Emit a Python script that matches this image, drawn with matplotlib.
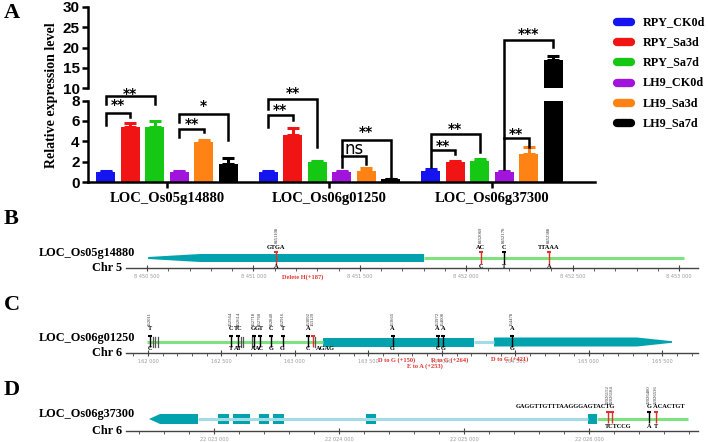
import numpy as np
import matplotlib.pyplot as plt
from matplotlib.lines import Line2D
from matplotlib.patches import Polygon
from matplotlib.ticker import MultipleLocator, FuncFormatter

W, H = 708, 442
SERIF = 'Liberation Serif'
SANS = 'Liberation Sans'

# ---- panel A data ----
genes = ['LOC_Os05g14880', 'LOC_Os06g01250', 'LOC_Os06g37300']
series = ['RPY_CK0d', 'RPY_Sa3d', 'RPY_Sa7d', 'LH9_CK0d', 'LH9_Sa3d', 'LH9_Sa7d']
colors = ['#1414F0', '#F01414', '#14C814', '#A014DC', '#FF8214', '#000000']
expr_os05g14880 = [1.0, 5.35, 5.4, 1.0, 3.95, 1.8]
expr_os06g01250 = [1.0, 4.6, 1.95, 1.0, 1.1, 0.25]
expr_os06g37300 = [1.05, 1.95, 2.1, 1.0, 2.75, 16.8]
err_os05g14880 = [0.1, 0.45, 0.6, 0.05, 0.2, 0.55]
err_os06g01250 = [0.12, 0.7, 0.15, 0.05, 0.3, 0.05]
err_os06g37300 = [0.25, 0.1, 0.15, 0.05, 0.65, 1.0]
values = [expr_os05g14880, expr_os06g01250, expr_os06g37300]
errors = [err_os05g14880, err_os06g01250, err_os06g37300]

# significance: gene, bar i, bar j, label
sig_pairs = [(0, 0, 1, '**'), (0, 0, 2, '**'), (0, 3, 4, '**'), (0, 3, 5, '*'),
             (1, 0, 1, '**'), (1, 0, 2, '**'), (1, 3, 4, 'ns'), (1, 3, 5, '**'),
             (2, 0, 1, '**'), (2, 0, 2, '**'), (2, 3, 4, '**'), (2, 3, 5, '***')]
# bracket height, left leg end, right leg end, label height (in axis values)
sig_levels = [(6.8, 5.62, 6.37, 7.84), (8.4, 7.68, 7.68, 9.25), (5.23, 4.41, 4.9, 5.98), (6.7, 5.88, 4.08, 7.68),
              (6.55, 5.4, 6.05, 7.35), (8.1, 7.2, 3.43, 9.0), (2.52, 1.47, 1.8, 3.2), (4.08, 2.52, 0.49, 5.13),
              (3.17, 1.47, 2.71, 3.76), (4.67, 3.3, 2.94, 5.46), (4.31, 1.31, 3.43, 5.0), (21.85, 4.31, 20.2, 23.9)]

# ---- gene structure data ----
b_cds = (8450505, 8450749, 8451802)        # tip, full width, end
b_utr = (8451802, 8453022)
b_snp_pos = [8451108, 8452069, 8452178, 8452388]
b_snp_ref = ['GTGA', 'AC', 'C', 'TTAAA']
b_snp_alt = ['A', 'C', 'T', 'A']
b_snp_red = [True, True, False, True]

c_utr = (161993, 163191)
c_exons = [(163191, 164219)]
c_last_exon = (164355, 165329, 165567)     # start, taper start, tip
c_snp_pos = [162011, 162564, 162614, 162718, 162760, 162840, 162916, 163092, 163120,
             163665, 163972, 164008, 164478]
c_snp_ref = ['T', 'C', 'TC', 'G', 'GT', 'C', 'T', 'A', '', 'A', 'A', 'A', 'A']
c_snp_alt = ['C', 'T', 'AT', 'A', 'AC', 'G', 'G', 'C', '', 'G', 'C', 'G', 'G']
c_snp_red = [False] * 8 + [True] + [False] * 4
c_indels = [162035, 162050, 162065, 162630, 162645, 162710, 163140]
c_notes = ['D to G (+150)', 'E to A (+253)', 'R to G (+264)', 'D to G (+421)']
c_note_pos = [163695, 163886, 164056, 164464]

d_first_exon = (22022480, 22022568, 22022872)  # tip, full width, end
d_exons = [(22023032, 22023120), (22023152, 22023288), (22023360, 22023440),
           (22023472, 22023560), (22024216, 22024296), (22025992, 22026064)]
d_utr = (22026064, 22026792)
d_snp_pos = [22026152, 22026184, 22026480, 22026536]
d_snp_red = [True, True, False, True]
d_snp_alt = ['', '', 'A', 'T']

TEAL = '#00A3AD'
UTR = '#7EE37E'
INTRON = '#A3DCE6'
RED = '#E3302B'


def rect(x0, y0, x1, y1):
    return [x0 / W, 1 - y1 / H, (x1 - x0) / W, (y1 - y0) / H]


fig = plt.figure(figsize=(W / 100, H / 100), dpi=100)

# ================= panel A =================
ax_lo = fig.add_axes(rect(88, 100.5, 595, 182))
ax_hi = fig.add_axes(rect(88, 7, 595, 88))
centers = np.arange(len(genes)) * 6.63
offsets = np.arange(len(series)) - 2.5
for ax in (ax_lo, ax_hi):
    for gi in range(len(genes)):
        for k in range(len(series)):
            ax.bar(centers[gi] + offsets[k], values[gi][k], 0.78, color=colors[k],
                   yerr=[[0], [errors[gi][k]]], capsize=4.5,
                   error_kw=dict(ecolor=colors[k], elinewidth=2.2, capthick=2.2))
    ax.set_xlim(-3.22, 17.47)
    for s in ['top', 'right']:
        ax.spines[s].set_visible(False)
    ax.spines['left'].set_linewidth(1.8)
    ax.spines['bottom'].set_linewidth(1.8)
    ax.tick_params(axis='y', width=1.8, length=4, pad=2)
ax_lo.set_ylim(0, 8)
ax_hi.set_ylim(10, 30)
ax_lo.set_yticks([0, 2, 4, 6, 8])
ax_hi.set_yticks([10, 15, 20, 25, 30])
for ax in (ax_lo, ax_hi):
    ax.set_yticklabels([str(int(v)) for v in ax.get_yticks()], fontweight='bold', fontsize=11, family=SANS)
ax_hi.spines['bottom'].set_visible(False)
ax_hi.set_xticks([])
ax_lo.set_xticks(centers)
ax_lo.set_xticklabels(genes, family=SERIF, fontweight='bold', fontsize=10.5)
ax_lo.tick_params(axis='x', width=1.8, length=4, pad=3)

fig.text(52 / W, 1 - 95 / H, 'Relative expression level', rotation=90, ha='center', va='center',
         family=SERIF, fontweight='bold', fontsize=10)


def to_fig(x, v):
    ax = ax_hi if v > 9 else ax_lo
    d = ax.transData.transform((x, v))
    return fig.transFigure.inverted().transform(d)


for (gi, i, j, lab), (hgt, yl, yr, ty) in zip(sig_pairs, sig_levels):
    xi = centers[gi] + offsets[i]
    xj = centers[gi] + offsets[j]
    pts = [to_fig(xi, yl), to_fig(xi, hgt), to_fig(xj, hgt), to_fig(xj, yr)]
    fig.add_artist(Line2D([p[0] for p in pts], [p[1] for p in pts], transform=fig.transFigure,
                          color='black', lw=1.8, solid_joinstyle='miter'))
    tx, tyf = to_fig((xi + xj) / 2, ty)
    if lab == 'ns':
        fig.text(tx, tyf, lab, ha='center', va='center', fontsize=12, family='DejaVu Sans')
    else:
        fig.text(tx, tyf - 0.006, lab, ha='center', va='center', fontsize=10, fontweight='bold',
                 family='DejaVu Sans')

# legend
for k, name in enumerate(series):
    yk = 1 - (21.7 + k * 20.3) / H
    fig.add_artist(Line2D([617 / W, 631 / W], [yk, yk], transform=fig.transFigure, color=colors[k],
                          lw=6, solid_capstyle='round'))
    fig.text(643 / W, yk, name, ha='left', va='center', family=SERIF, fontweight='bold', fontsize=8.7)

# panel letters
for lab, yy in [('A', 13), ('B', 219), ('C', 305), ('D', 390)]:
    fig.text(4 / W, 1 - yy / H, lab, ha='left', va='center', family=SERIF, fontweight='bold', fontsize=16)


# ================= gene panels =================
def gene_axes(axis_y, xlim, major, minor, gene, chrom, label_y):
    ax = fig.add_axes(rect(126, axis_y - 60, 698, axis_y))
    ax.set_xlim(*xlim)
    ax.set_ylim(0, 60)
    for s in ['top', 'right', 'left']:
        ax.spines[s].set_visible(False)
    ax.spines['bottom'].set_color('#444444')
    ax.spines['bottom'].set_linewidth(1.0)
    ax.set_yticks([])
    ax.xaxis.set_major_locator(MultipleLocator(major))
    ax.xaxis.set_minor_locator(MultipleLocator(minor))
    ax.xaxis.set_major_formatter(FuncFormatter(lambda v, p: f'{int(round(v)):,}'.replace(',', ' ')))
    ax.tick_params(axis='x', which='major', direction='inout', length=5, width=0.8, color='#444444',
                   labelsize=3.6, labelcolor='#9a9a9a', pad=1.5)
    ax.tick_params(axis='x', which='minor', direction='out', length=2.5, width=0.6, color='#444444')
    ax.patch.set_alpha(0)
    fig.text(135 / W, 1 - label_y / H, gene, ha='right', va='center', family=SERIF, fontweight='bold', fontsize=8.8)
    fig.text(122 / W, 1 - axis_y / H, chrom, ha='right', va='center', family=SERIF, fontweight='bold', fontsize=8.8)
    return ax


def marker(ax, x, lo, hi, red):
    col = RED if red else 'black'
    ax.plot([x, x], [lo, hi], color=col, lw=1.0, solid_capstyle='butt')
    ax.plot([x], [hi], marker='_', ms=3.5, mew=1.5, color=col)


def num_label(ax, x, y):
    ax.text(x, y, str(x), rotation=90, ha='center', va='bottom', fontsize=3.4, family=SERIF, color='#333333')


def small(ax, x, y, s, ha='center', color='black'):
    ax.text(x, y, s, ha=ha, va='center', fontsize=4.6, family=SERIF, fontweight='bold', color=color, clip_on=False)


# ---- B ----
axB = gene_axes(268, (8450401, 8453089), 500, 100, 'LOC_Os05g14880', 'Chr 5', 253)
c, hh = 10, 4
axB.plot(b_utr, [c, c], color=UTR, lw=2.2, solid_capstyle='butt')
axB.add_patch(Polygon([(b_cds[0], c - 1), (b_cds[1], c - hh), (b_cds[2], c - hh), (b_cds[2], c + hh),
                       (b_cds[1], c + hh), (b_cds[0], c + 1)], closed=True, color=TEAL, lw=0))
for x, r, a, red in zip(b_snp_pos, b_snp_ref, b_snp_alt, b_snp_red):
    marker(axB, x, 4, 16, red)
    small(axB, x, 20.3, r)
    small(axB, x, 1.2, a)
    num_label(axB, x, 24.5)
small(axB, 8451230, -9, 'Delete H(+187)', color=RED)

# ---- C ----
axC = gene_axes(353, (161850, 165744), 500, 100, 'LOC_Os06g01250', 'Chr 6', 338)
c, hh = 11, 4.5
axC.plot(c_utr, [c, c], color=UTR, lw=2.2, solid_capstyle='butt')
axC.plot([c_exons[-1][1], c_last_exon[0]], [c, c], color=INTRON, lw=2.2, solid_capstyle='butt')
for s, e in c_exons:
    axC.add_patch(Polygon([(s, c - hh), (e, c - hh), (e, c + hh), (s, c + hh)], closed=True, color=TEAL, lw=0))
s, t, e = c_last_exon
axC.add_patch(Polygon([(s, c - hh), (t, c - hh), (e, c - 0.8), (e, c + 0.8), (t, c + hh), (s, c + hh)],
                      closed=True, color=TEAL, lw=0))
for x in c_indels:
    axC.plot([x, x], [6, 16], color='#555555', lw=0.9)
for x, r, a, red in zip(c_snp_pos, c_snp_ref, c_snp_alt, c_snp_red):
    marker(axC, x, 6, 17.5, red)
    if r:
        small(axC, x, 24, r)
    if a:
        small(axC, x, 4, a)
    num_label(axC, x, 27)
small(axC, 163140, 4, 'AGAG', ha='left')
for (nx, note), yy in zip(zip(c_note_pos, c_notes), [-7, -13, -7, -6]):
    small(axC, nx, yy, note, color=RED)

# ---- D ----
axD = gene_axes(431, (22022296, 22026872), 1000, 200, 'LOC_Os06g37300', 'Chr 6', 414)
c, hh = 12, 5
axD.plot([d_first_exon[2], d_exons[-1][0]], [c, c], color=INTRON, lw=2.2, solid_capstyle='butt')
axD.plot(d_utr, [c, c], color=UTR, lw=2.2, solid_capstyle='butt')
tip, full, end = d_first_exon
axD.add_patch(Polygon([(tip, c), (full, c - hh), (end, c - hh), (end, c + hh), (full, c + hh)],
                      closed=True, color=TEAL, lw=0))
for s, e in d_exons:
    axD.add_patch(Polygon([(s, c - hh), (e, c - hh), (e, c + hh), (s, c + hh)], closed=True, color=TEAL, lw=0))
for x, a, red in zip(d_snp_pos, d_snp_alt, d_snp_red):
    marker(axD, x, 8, 19, red)
    if a:
        small(axD, x, 4, a)
    num_label(axD, x, 27)
small(axD, 22026208, 24, 'GAGGTTGTTTAAGGGAGTACTG', ha='right')
small(axD, 22026464, 24, 'G ACACTGT', ha='left')
small(axD, 22026130, 4, 'TCTCCG', ha='left')

fig.savefig('out.png', dpi=100)
